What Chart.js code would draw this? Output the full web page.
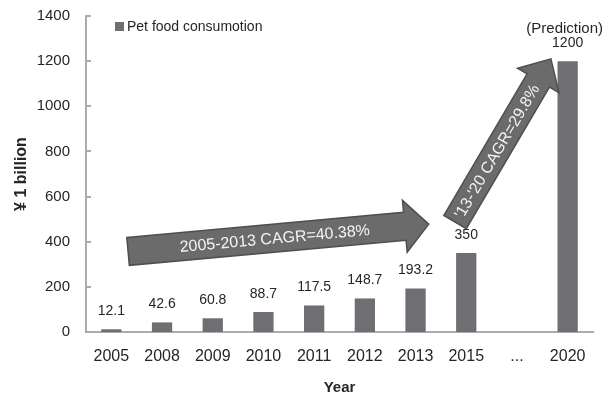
<!DOCTYPE html>
<html>
<head>
<meta charset="utf-8">
<script src="https://cdn.jsdelivr.net/npm/chart.js@4.4.0/dist/chart.umd.min.js"></script>
<style>
    html, body { margin: 0; padding: 0; background: #fff; }
    #wrap { width: 616px; height: 395px; position: relative; }
</style>
</head>
<body>
<div id="wrap"><canvas id="chart"></canvas></div>
<script>
// Pet food consumption, ¥ 1 billion
const years = ['2005', '2008', '2009', '2010', '2011', '2012', '2013', '2015', '...', '2020'];
const consumption = [12.1, 42.6, 60.8, 88.7, 117.5, 148.7, 193.2, 350, null, 1200];
const seriesName = 'Pet food consumotion';
const yMax = 1400;
const yStep = 200;

// growth arrows, ends given as [category index, value]
const cagrArrows = [
    { from: [0.33, 357], to: [6.26, 478], text: '2005-2013 CAGR=40.38%', shaft: 28, headLen: 24, headHalf: 26, textAt: 0.53 },
    { from: [6.78, 487], to: [8.67, 1210], text: "'13-'20 CAGR=29.8%", shaft: 26, headLen: 25, headHalf: 24, textAt: 0.5 }
];

const barColor = '#6f6f73';
const axisColor = '#ababab';
const textColor = '#262626';
const fontFamily = '"Liberation Sans", Arial, sans-serif';

let drawArrow = (ctx, x1, y1, x2, y2, a) => {
    let len = Math.hypot(x2 - x1, y2 - y1);
    let b = len - a.headLen, s = a.shaft / 2;
    ctx.save();
    ctx.translate(x1, y1);
    ctx.rotate(Math.atan2(y2 - y1, x2 - x1));
    ctx.beginPath();
    ctx.moveTo(0, -s);
    ctx.lineTo(b, -s);
    ctx.lineTo(b, -a.headHalf);
    ctx.lineTo(len, 0);
    ctx.lineTo(b, a.headHalf);
    ctx.lineTo(b, s);
    ctx.lineTo(0, s);
    ctx.closePath();
    ctx.fillStyle = '#6b6b6b';
    ctx.fill();
    ctx.lineWidth = 1.5;
    ctx.strokeStyle = '#4f4f4f';
    ctx.stroke();
    ctx.fillStyle = '#f4f4f4';
    ctx.font = '16px ' + fontFamily;
    ctx.textAlign = 'center';
    ctx.textBaseline = 'middle';
    ctx.fillText(a.text, b * a.textAt, 1);
    ctx.restore();
};

const extras = {
    id: 'extras',
    afterDatasetsDraw(chart) {
        let ctx = chart.ctx;
        let {x, y} = chart.scales;
        let area = chart.chartArea;

        // small inward ticks on the value axis
        ctx.save();
        ctx.strokeStyle = axisColor;
        ctx.lineWidth = 2;
        for (let v = 0; v <= yMax; v += yStep) {
            let py = Math.round(y.getPixelForValue(v));
            ctx.beginPath();
            ctx.moveTo(area.left, py);
            ctx.lineTo(area.left + 5, py);
            ctx.stroke();
        }

        // value labels above each bar
        let meta = chart.getDatasetMeta(0);
        ctx.fillStyle = textColor;
        ctx.textAlign = 'center';
        ctx.textBaseline = 'middle';
        meta.data.forEach((bar, i) => {
            let v = consumption[i];
            if (v == null) return;
            ctx.font = '14px ' + fontFamily;
            ctx.fillText(String(v), bar.x, bar.y - 18);
            if (years[i] === '2020') {
                ctx.font = '15px ' + fontFamily;
                ctx.fillText('(Prediction)', bar.x - 3, bar.y - 32);
            }
        });

        // legend inside the plot
        ctx.fillStyle = barColor;
        ctx.fillRect(area.left + 29, 22, 9, 9);
        ctx.fillStyle = textColor;
        ctx.font = '14px ' + fontFamily;
        ctx.textAlign = 'left';
        ctx.fillText(seriesName, area.left + 41, 27);
        ctx.restore();

        for (let a of cagrArrows) {
            drawArrow(ctx,
                x.getPixelForValue(a.from[0]), y.getPixelForValue(a.from[1]),
                x.getPixelForValue(a.to[0]), y.getPixelForValue(a.to[1]), a);
        }
    }
};

new Chart(document.getElementById('chart').getContext('2d'), {
    type: 'bar',
    data: {
        labels: years,
        datasets: [{
            label: seriesName,
            data: consumption,
            backgroundColor: barColor,
            borderWidth: 0,
            barPercentage: 0.4,
            categoryPercentage: 1
        }]
    },
    options: {
        responsive: true,
        maintainAspectRatio: false,
        animation: false,
        layout: { padding: { top: 16, right: 23, bottom: 0, left: 0 } },
        plugins: {
            legend: { display: false },
            tooltip: { enabled: false }
        },
        scales: {
            x: {
                grid: { display: false, drawTicks: false },
                border: { display: true, color: axisColor, width: 2 },
                ticks: { color: textColor, font: { family: fontFamily, size: 16 }, padding: 15, maxRotation: 0 },
                title: { display: true, text: 'Year', color: textColor, font: { family: fontFamily, size: 15, weight: 'bold', lineHeight: 1 }, padding: { top: 0, bottom: 0 } },
                afterFit: (scale) => {
                    scale.height = 63;
                    scale.paddingLeft = 0;
                    scale.paddingRight = 0;
                }
            },
            y: {
                min: 0,
                max: yMax,
                grid: { display: false, drawTicks: false },
                border: { display: true, color: axisColor, width: 2 },
                ticks: { stepSize: yStep, color: textColor, font: { family: fontFamily, size: 15 }, padding: 16, callback: (v) => String(v) },
                title: { display: true, text: '¥ 1 billion', color: textColor, font: { family: fontFamily, size: 16, weight: 'bold' }, padding: { top: 12, bottom: 0 } },
                afterFit: (scale) => {
                    scale.width = 86;
                    scale.paddingTop = 0;
                    scale.paddingBottom = 0;
                }
            }
        }
    },
    plugins: [extras]
});
</script>
</body>
</html>
